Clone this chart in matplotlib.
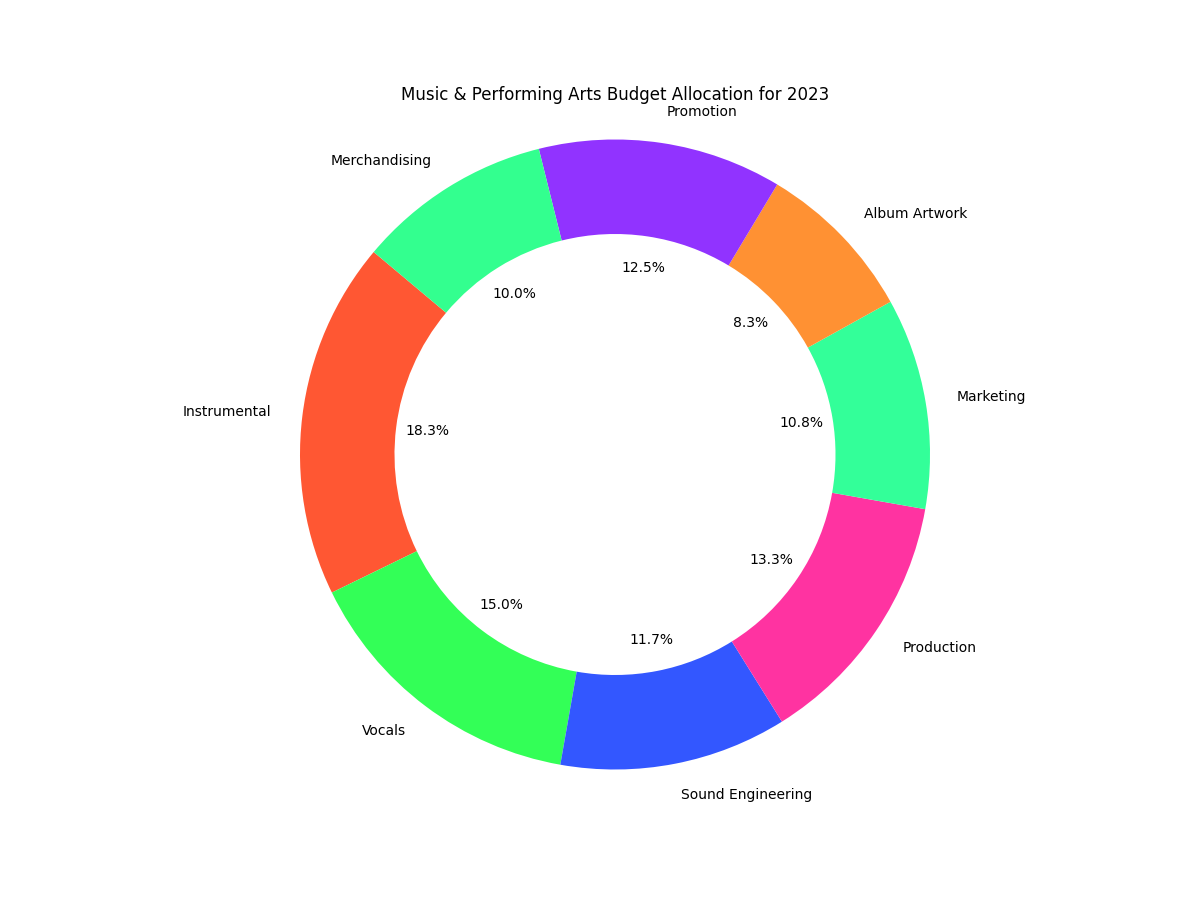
import matplotlib.pyplot as plt

categories = ['Instrumental', 'Vocals', 'Sound Engineering', 'Production',
              'Marketing', 'Album Artwork', 'Promotion', 'Merchandising']
budget = [22, 18, 14, 16, 13, 10, 15, 12]
colors = ['#FF5733', '#33FF57', '#3357FF', '#FF33A1',
          '#33FF99', '#FF9133', '#9133FF', '#33FF8F']

fig, ax = plt.subplots(figsize=(12, 9), dpi=100)
ax.pie(budget, labels=categories, colors=colors, autopct='%1.1f%%',
       startangle=140, pctdistance=0.6, labeldistance=1.1,
       wedgeprops=dict(width=0.3))
ax.axis('equal')
ax.set_title('Music & Performing Arts Budget Allocation for 2023')
plt.savefig('out.png')
